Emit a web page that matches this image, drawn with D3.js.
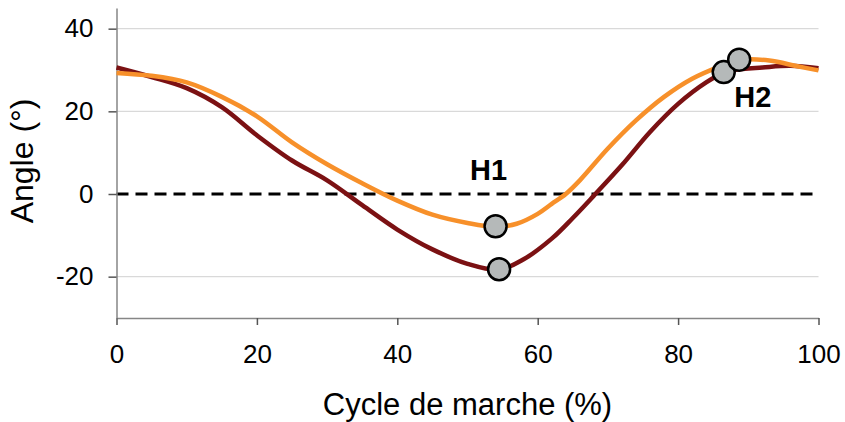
<!DOCTYPE html>
<html>
<head>
<meta charset="utf-8">
<script src="https://d3js.org/d3.v7.min.js"></script>
<style>
  body { margin: 0; background: #fff; }
  svg { display: block; font-family: "Liberation Sans", Arial, sans-serif; }
</style>
</head>
<body>
<svg id="chart"></svg>
<script>
  // gait cycle (%) and joint angle (deg)
  const cycleDark = [0, 5, 10, 15, 20, 25, 30, 35, 40, 45, 50, 54.5, 58, 62, 65, 68, 72, 76, 80, 84, 86.5, 88, 92, 96, 100]
  const angleDark = [30.6, 28.3, 25.6, 21.0, 14.2, 8.1, 3.3, -2.7, -8.6, -13.4, -16.9, -18.3, -15.8, -10.8, -5.8, -0.4, 7.0, 15.0, 21.8, 27.0, 29.3, 30.0, 30.6, 31.0, 30.4]

  const cycleOrange = [0, 5, 10, 15, 20, 25, 30, 35, 40, 45, 50, 54, 57, 60, 62, 64, 66, 70, 74, 78, 82, 86, 88.7, 93, 97, 100]
  const angleOrange = [29.3, 28.6, 27.0, 23.5, 18.8, 12.5, 7.2, 2.6, -1.6, -5.0, -7.0, -7.9, -7.2, -4.8, -2.4, 0.0, 3.3, 11.0, 17.8, 23.5, 27.9, 30.9, 32.4, 32.3, 30.9, 29.9]

  // H1 / H2 event markers
  const markersDark = [[54.5, -18.2], [86.5, 29.5]]
  const markersOrange = [[54, -7.8], [88.7, 32.5]]
  const eventLabels = [{ text: 'H1', x: 53, y: 3.5, anchor: 'middle' }, { text: 'H2', x: 88, y: 21.0, anchor: 'start' }]

  const xTicks = [0, 20, 40, 60, 80, 100]
  const yTicks = [-20, 0, 20, 40]
  const gridTicks = [-20, 20, 40]

  const width = 845, height = 422
  const margin = { left: 116.5, right: 26.5, top: 8, bottom: 104 }

  const svg = d3.select('#chart')
      .attr('width', width)
      .attr('height', height)

  const x = d3.scaleLinear()
      .domain([0, 100])
      .range([margin.left, width - margin.right])

  const y = d3.scaleLinear()
      .domain([-30, 45])
      .range([height - margin.bottom, margin.top])

  // light grid
  svg.append('g')
      .selectAll('line')
      .data(gridTicks)
      .enter().append('line')
      .attr('x1', x(0))
      .attr('x2', x(100))
      .attr('y1', d => y(d))
      .attr('y2', d => y(d))
      .style('stroke', '#d9d9d9')
      .style('stroke-width', 1.2)

  // dashed zero line
  svg.append('line')
      .attr('x1', x(0))
      .attr('x2', x(100))
      .attr('y1', y(0))
      .attr('y2', y(0))
      .style('stroke', '#000')
      .style('stroke-width', 3)
      .style('stroke-dasharray', '12,7')

  // axes (plain hyphen for negatives, like the original)
  const fmt = d => String(d)

  const xAxis = svg.append('g')
      .attr('transform', 'translate(0,' + y(-30) + ')')
      .call(d3.axisBottom(x).tickValues(xTicks).tickFormat(fmt).tickSize(7).tickPadding(20).tickSizeOuter(0))

  const yAxis = svg.append('g')
      .attr('transform', 'translate(' + x(0) + ',0)')
      .call(d3.axisLeft(y).tickValues(yTicks).tickFormat(fmt).tickSize(8).tickPadding(15).tickSizeOuter(0))

  for (const ax of [xAxis, yAxis]) {
    ax.select('.domain').style('stroke', '#868686').style('stroke-width', 1.5)
    ax.selectAll('.tick line').style('stroke', '#555').style('stroke-width', 1.5)
    ax.selectAll('text')
        .style('font-size', '26px')
        .style('fill', '#000')
        .style('font-family', '"Liberation Sans", Arial, sans-serif')
  }

  svg.append('text')
      .attr('x', x(50))
      .attr('y', 415)
      .attr('text-anchor', 'middle')
      .style('font-size', '31px')
      .text('Cycle de marche (%)')

  svg.append('text')
      .attr('transform', 'translate(33,' + y(8) + ') rotate(-90)')
      .attr('text-anchor', 'middle')
      .style('font-size', '32px')
      .text('Angle (°)')

  const line = d3.line()
      .x(d => x(d[0]))
      .y(d => y(d[1]))
      .curve(d3.curveCatmullRom.alpha(0.5))

  svg.append('path')
      .datum(d3.zip(cycleDark, angleDark))
      .attr('d', line)
      .style('fill', 'none')
      .style('stroke', '#7b1113')
      .style('stroke-width', 4.5)

  svg.append('path')
      .datum(d3.zip(cycleOrange, angleOrange))
      .attr('d', line)
      .style('fill', 'none')
      .style('stroke', '#f7902a')
      .style('stroke-width', 4.5)

  // markers: dark ones first, orange on top
  svg.append('g')
      .selectAll('circle')
      .data(markersDark.concat(markersOrange))
      .enter().append('circle')
      .attr('cx', d => x(d[0]))
      .attr('cy', d => y(d[1]))
      .attr('r', 11)
      .style('fill', '#b5b9b9')
      .style('stroke', '#000')
      .style('stroke-width', 2.5)

  svg.append('g')
      .selectAll('text')
      .data(eventLabels)
      .enter().append('text')
      .attr('x', d => x(d.x))
      .attr('y', d => y(d.y))
      .attr('text-anchor', d => d.anchor)
      .style('font-size', '29px')
      .style('font-weight', 'bold')
      .text(d => d.text)
</script>
</body>
</html>
